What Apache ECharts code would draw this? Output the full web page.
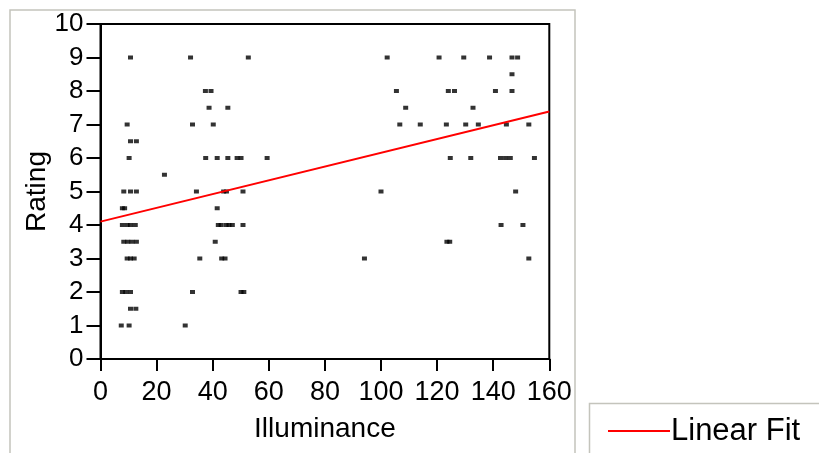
<!DOCTYPE html>
<html>
<head>
<meta charset="utf-8">
<script src="https://cdn.jsdelivr.net/npm/echarts@6/dist/echarts.min.js"></script>
<style>html,body{margin:0;padding:0;background:#fff;}#c{width:819px;height:453px;}</style>
</head>
<body>
<div id="c"></div>
<script>
// Observations: [Illuminance, Rating]
const points = [
  [10.7,9],[32.1,9],[52.7,9],[102.2,9],[120.7,9],[129.5,9],[138.7,9],[146.7,9],[148.7,9],
  [146.7,8.5],
  [37.4,8],[39.4,8],[105.5,8],[124,8],[126.2,8],[140.8,8],[146.7,8],
  [38.7,7.5],[45.4,7.5],[108.8,7.5],[132.8,7.5],
  [9.5,7],[32.8,7],[40.2,7],[106.7,7],[114,7],[123.3,7],[130.2,7],[134.7,7],[144.7,7],[152.7,7],
  [10.7,6.5],[12.8,6.5],
  [10.2,6],[37.5,6],[41.6,6],[45.4,6],[48.7,6],[50.1,6],[59.4,6],[124.7,6],[132,6],[142.6,6],[144.4,6],[146.1,6],[154.7,6],
  [22.8,5.5],
  [8.3,5],[10.7,5],[12.8,5],[34.2,5],[43.9,5],[44.9,5],[50.8,5],[100,5],[148,5],
  [7.8,4.5],[8.6,4.5],[41.6,4.5],
  [7.8,4],[9.5,4],[10.7,4],[12.4,4],[42,4],[43,4],[44.8,4],[45.8,4],[47,4],[50.8,4],[142.8,4],[150.6,4],
  [8.3,3.5],[9.7,3.5],[11.2,3.5],[12.8,3.5],[40.9,3.5],[123.5,3.5],[124.5,3.5],
  [9.5,3],[10.7,3],[12,3],[35.4,3],[43.2,3],[44.4,3],[94.1,3],[152.7,3],
  [7.8,2],[9,2],[10.7,2],[32.8,2],[50.1,2],[51.1,2],
  [10.7,1.5],[12.6,1.5],
  [7.4,1],[10.2,1],[30.2,1]
];
// Linear fit line endpoints
const fitLine = [[0,4.1],[160,7.39]];
const xTicks = {min:0, max:160, interval:20};
const yTicks = {min:0, max:10, interval:1};
const xTitle = 'Illuminance';
const yTitle = 'Rating';
const legendLabel = 'Linear Fit';

const font = '"Liberation Sans", Arial, sans-serif';
const chart = echarts.init(document.getElementById('c'), null, {renderer:'canvas'});
chart.setOption({
  animation:false,
  backgroundColor:'#fff',
  graphic:[
    {type:'rect', shape:{x:10,y:10,width:565,height:460}, style:{fill:'none',stroke:'#c4c4bc',lineWidth:1.5}, z:-1},
    {type:'rect', shape:{x:589.5,y:403.5,width:260,height:80}, style:{fill:'#fff',stroke:'#c4c4bc',lineWidth:1.5}, z:-1}
  ],
  grid:{left:100.5, right:269.7, top:24, bottom:94, containLabel:false, outerBoundsMode:'none',
        show:true, borderColor:'#000', borderWidth:2, backgroundColor:'transparent'},
  xAxis:{
    type:'value', min:xTicks.min, max:xTicks.max, interval:xTicks.interval,
    name:xTitle, nameLocation:'middle', nameGap:56, nameMoveOverlap:false,
    nameTextStyle:{fontFamily:font, fontSize:28, color:'#000'},
    axisLine:{show:true, onZero:false, lineStyle:{color:'#000', width:2}},
    axisTick:{show:true, length:12, lineStyle:{color:'#000', width:2}},
    axisLabel:{fontFamily:font, fontSize:27, color:'#000', margin:20},
    splitLine:{show:false}
  },
  yAxis:{
    type:'value', min:yTicks.min, max:yTicks.max, interval:yTicks.interval,
    name:yTitle, nameLocation:'middle', nameGap:49, nameRotate:90, nameMoveOverlap:false,
    nameTextStyle:{fontFamily:font, fontSize:28, color:'#000'},
    axisLine:{show:true, onZero:false, lineStyle:{color:'#000', width:2}},
    axisTick:{show:true, length:14, lineStyle:{color:'#000', width:2}},
    axisLabel:{fontFamily:font, fontSize:26, color:'#000', margin:17},
    splitLine:{show:false}
  },
  legend:{
    data:[{name:legendLabel, icon:'rect'}],
    left:608, top:414, padding:0,
    itemWidth:62, itemHeight:2,
    textStyle:{fontFamily:font, fontSize:31, color:'#000', lineHeight:34, padding:[0,0,0,-4]}
  },
  series:[
    {type:'scatter', name:'data', data:points, symbol:'rect', symbolSize:[5,4],
     itemStyle:{color:'#000'}, z:2},
    {type:'line', name:legendLabel, data:fitLine, symbol:'none',
     lineStyle:{color:'#ff0000', width:2}, itemStyle:{color:'#ff0000'}, z:3}
  ]
});
</script>
</body>
</html>
